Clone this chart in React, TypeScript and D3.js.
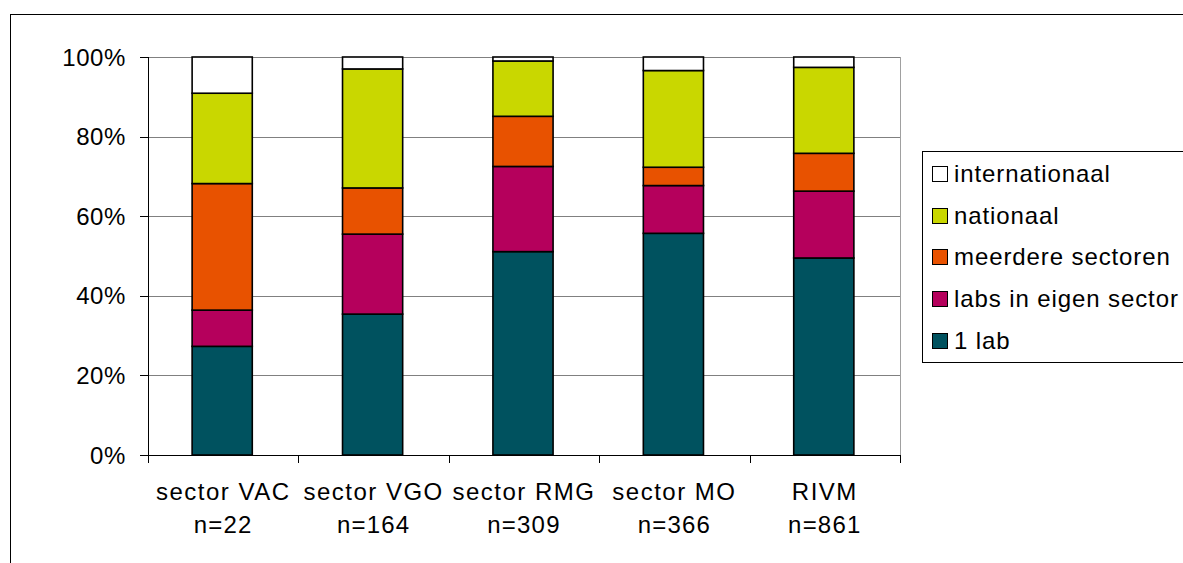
import React from "react";
import * as d3 from "d3";

const categories = ["sector VAC", "sector VGO", "sector RMG", "sector MO", "RIVM"];
const counts = ["n=22", "n=164", "n=309", "n=366", "n=861"];
const seriesNames = ["1 lab", "labs in eigen sector", "meerdere sectoren", "nationaal", "internationaal"];
const seriesColors = ["#00525F", "#B5005C", "#E85200", "#C9D700", "#FFFFFF"];
const oneLab = [27.3, 35.4, 51.1, 55.7, 49.5];
const labsEigen = [9.1, 20.1, 21.4, 12.0, 16.8];
const meerdere = [31.8, 11.6, 12.6, 4.6, 9.5];
const nationaal = [22.7, 29.9, 13.9, 24.3, 21.6];
const internationaal = [9.1, 3.0, 1.0, 3.4, 2.6];
const yTicks = [0, 20, 40, 60, 80, 100];

const W = 1183, H = 563;
const plot = { left: 148, right: 900, top: 57, bottom: 455 };
const FONT = "'Liberation Sans', Arial, sans-serif";

export default function App() {
  const x = d3.scaleBand<string>().domain(categories).range([plot.left, plot.right]).paddingInner(0.6).paddingOuter(0.3);
  const xOuter = d3.scaleBand<string>().domain(categories).range([plot.left, plot.right]);
  const y = d3.scaleLinear().domain([0, 100]).range([plot.bottom, plot.top]);
  const rows = categories.map((c, i) => ({
    cat: c,
    s0: oneLab[i], s1: labsEigen[i], s2: meerdere[i], s3: nationaal[i], s4: internationaal[i],
  }));
  const stack = d3.stack<any>().keys(["s0", "s1", "s2", "s3", "s4"]).offset(d3.stackOffsetExpand);
  const layers = stack(rows);
  const legendOrder = [4, 3, 2, 1, 0];
  const legendY = [173, 215, 256, 298, 340];

  return (
    <svg width={W} height={H} style={{ position: "absolute", left: 0, top: 0, background: "#fff" }}>
      <rect x={10.5} y={14.5} width={1300} height={700} fill="#fff" stroke="#000" strokeWidth={1} />
      {yTicks.map((t) => (
        <line key={t} x1={plot.left} x2={plot.right} y1={Math.round(y(t)) + 0.5} y2={Math.round(y(t)) + 0.5} stroke="#808080" strokeWidth={1} />
      ))}
      <line x1={plot.right + 0.5} x2={plot.right + 0.5} y1={plot.top} y2={plot.bottom} stroke="#a0a0a0" strokeWidth={1} />
      {yTicks.map((t) => (
        <g key={"yt" + t}>
          <line x1={140} x2={plot.left} y1={Math.round(y(t)) + 0.5} y2={Math.round(y(t)) + 0.5} stroke="#000" />
          <text x={126} y={y(t) + 8.5} textAnchor="end" fontFamily={FONT} fontSize={24} letterSpacing={0.6} fill="#000">{t}%</text>
        </g>
      ))}
      {layers.map((layer, li) => (
        <g key={li}>
          {layer.map((d, i) => (
            <rect key={i} x={x(categories[i])! - 1} width={x.bandwidth()} y={y(d[1] * 100)} height={y(d[0] * 100) - y(d[1] * 100)}
              fill={seriesColors[li]} stroke="#000" strokeWidth={1.6} />
          ))}
        </g>
      ))}
      <line x1={plot.left + 0.5} x2={plot.left + 0.5} y1={plot.top} y2={plot.bottom} stroke="#000" />
      <line x1={plot.left} x2={plot.right + 1} y1={plot.bottom + 0.5} y2={plot.bottom + 0.5} stroke="#000" />
      {categories.map((c) => (
        <line key={"xt" + c} x1={Math.round(xOuter(c)!) + 0.5} x2={Math.round(xOuter(c)!) + 0.5} y1={plot.bottom} y2={463} stroke="#000" />
      ))}
      <line x1={plot.right + 0.5} x2={plot.right + 0.5} y1={plot.bottom} y2={463} stroke="#000" />
      {categories.map((c, i) => (
        <g key={"xl" + c}>
          <text x={xOuter(c)! + xOuter.bandwidth() / 2} y={500} textAnchor="middle" fontFamily={FONT} fontSize={24} letterSpacing={1.5} fill="#000">{c}</text>
          <text x={xOuter(c)! + xOuter.bandwidth() / 2} y={533} textAnchor="middle" fontFamily={FONT} fontSize={24} letterSpacing={1.2} fill="#000">{counts[i]}</text>
        </g>
      ))}
      <rect x={922.5} y={151.5} width={400} height={211} fill="#fff" stroke="#000" strokeWidth={1} />
      {legendOrder.map((si, k) => (
        <g key={"lg" + si}>
          <rect x={932.5} y={legendY[k] - 6.5} width={15} height={15} fill={seriesColors[si]} stroke="#000" strokeWidth={1} />
          <text x={954} y={legendY[k] + 8.5} fontFamily={FONT} fontSize={24} letterSpacing={0.9} fill="#000">{seriesNames[si]}</text>
        </g>
      ))}
    </svg>
  );
}
